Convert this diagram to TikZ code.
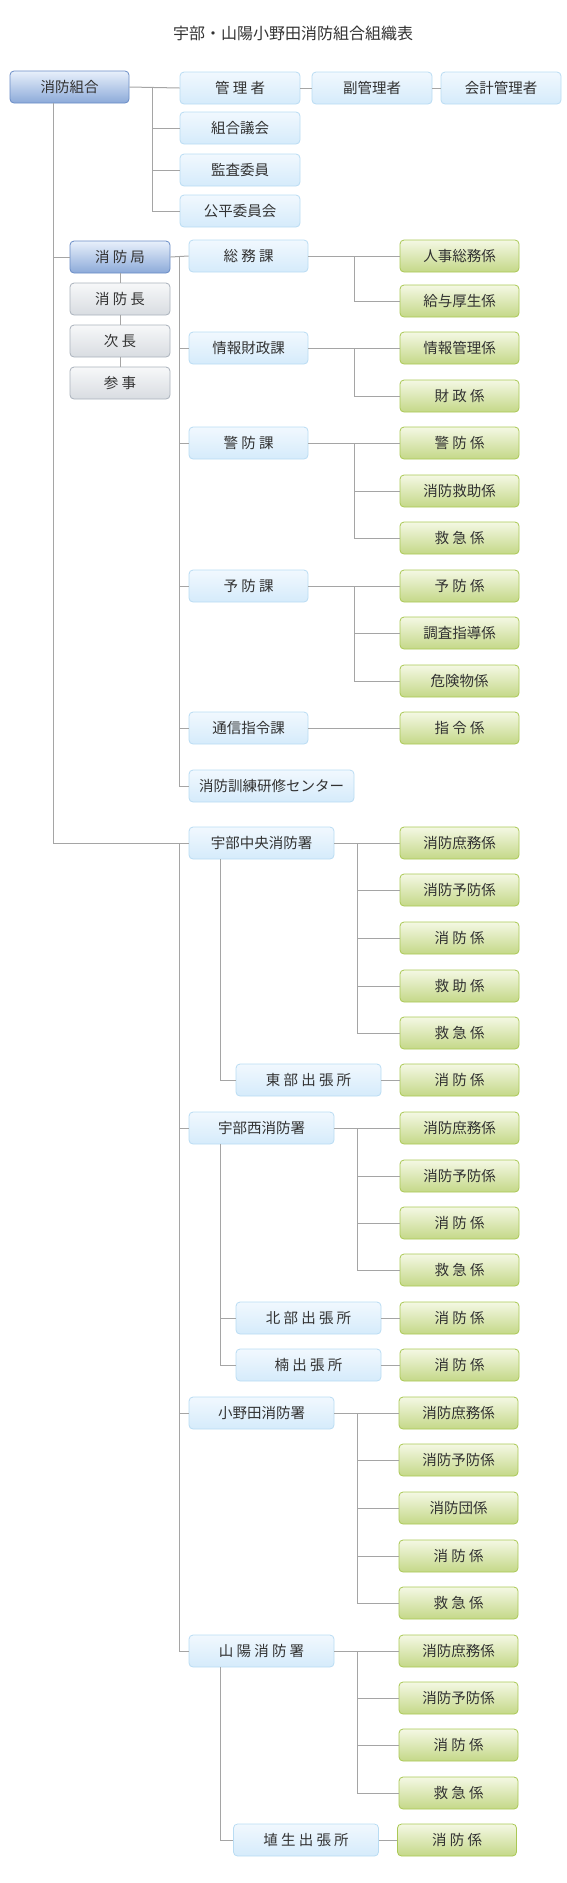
\documentclass[tikz,border=0pt]{standalone}
\usepackage{fontspec}
\setmainfont{Noto Sans CJK JP}
\usepackage{xcolor}
\usepackage{tikz}
\usetikzlibrary{positioning,calc}

\definecolor{txtgray}{RGB}{50,50,50}
\definecolor{linegray}{RGB}{165,165,165}
\definecolor{darkedge}{RGB}{105,140,198}
\definecolor{darktop}{RGB}{232,240,251}
\definecolor{darkbot}{RGB}{140,170,217}
\definecolor{lightedge}{RGB}{185,220,243}
\definecolor{lighttop}{RGB}{241,248,254}
\definecolor{lightbot}{RGB}{213,235,251}
\definecolor{grayedge}{RGB}{170,178,188}
\definecolor{graytop}{RGB}{247,248,249}
\definecolor{graybot}{RGB}{216,220,225}
\definecolor{greenedge}{RGB}{170,200,85}
\definecolor{greentop}{RGB}{244,248,228}
\definecolor{greenbot}{RGB}{196,216,136}

\begin{document}
\begin{tikzpicture}[x=1pt,y=-1pt,
    box/.style={rounded corners=4pt,minimum height=32pt,inner sep=0pt,line width=0.8pt,
        font=\fontsize{14.5}{17}\selectfont,text=txtgray},
    boxdark/.style={box,draw=darkedge,top color=darktop,bottom color=darkbot},
    boxlight/.style={box,draw=lightedge,top color=lighttop,bottom color=lightbot},
    boxgray/.style={box,draw=grayedge,top color=graytop,bottom color=graybot},
    boxgreen/.style={box,draw=greenedge,top color=greentop,bottom color=greenbot,minimum width=119pt},
    link/.style={draw=linegray,line width=1pt}]
    \useasboundingbox (0,0) rectangle (567,1883);

    \node[font=\fontsize{16}{19}\selectfont,text=txtgray] (title) at (293,33) {宇部・山陽小野田消防組合組織表};

    % top rows
    \node[boxdark,minimum width=119pt] (kumiai) at (69.5,87) {消防組合};
    \node[boxlight,minimum width=120pt] (kanri) at (240,88) {管 理 者};
    \node[boxlight,minimum width=120pt] (fuku) at (372,88) {副管理者};
    \node[boxlight,minimum width=120pt] (kaikei) at (501,88) {会計管理者};
    \node[boxlight,minimum width=120pt] (gikai) at (240,128) {組合議会};
    \node[boxlight,minimum width=120pt] (kansa) at (240,170) {監査委員};
    \node[boxlight,minimum width=120pt] (kohei) at (240,211) {公平委員会};

    % fire bureau
    \node[boxdark,minimum width=100pt] (kyoku) at (120,257) {消 防 局};
    \node[boxgray,minimum width=100pt] (choo) at (120,299) {消 防 長};
    \node[boxgray,minimum width=100pt] (jicho) at (120,341) {次 長};
    \node[boxgray,minimum width=100pt] (sanji) at (120,383) {参 事};

    \node[boxlight,minimum width=119pt] (somu) at (248.5,256) {総 務 課};
    \node[boxlight,minimum width=119pt] (joho) at (248.5,348) {情報財政課};
    \node[boxlight,minimum width=119pt] (keibo) at (248.5,443) {警 防 課};
    \node[boxlight,minimum width=119pt] (yobo) at (248.5,586) {予 防 課};
    \node[boxlight,minimum width=119pt] (tsushin) at (248.5,728) {通信指令課};
    \node[boxlight,minimum width=165pt] (kensyu) at (271.5,786) {消防訓練研修センター};

    \node[boxgreen] (jinji) at (459.5,256) {人事総務係};
    \node[boxgreen] (kyuyo) at (459.5,301) {給与厚生係};
    \node[boxgreen] (johok) at (459.5,348) {情報管理係};
    \node[boxgreen] (zaisei) at (459.5,396) {財 政 係};
    \node[boxgreen] (keibok) at (459.5,443) {警 防 係};
    \node[boxgreen] (kyujo) at (459.5,491) {消防救助係};
    \node[boxgreen] (kyukyu) at (459.5,538) {救 急 係};
    \node[boxgreen] (yobok) at (459.5,586) {予 防 係};
    \node[boxgreen] (chosa) at (459.5,633) {調査指導係};
    \node[boxgreen] (kiken) at (459.5,681) {危険物係};
    \node[boxgreen] (shirei) at (459.5,728) {指 令 係};

    % stations
    \node[boxlight,minimum width=145pt] (ubechuo) at (261.5,843) {宇部中央消防署};
    \node[boxlight,minimum width=145pt] (tobu) at (308.5,1080) {東 部 出 張 所};
    \node[boxgreen] (uc1) at (459.5,843) {消防庶務係};
    \node[boxgreen] (uc2) at (459.5,890) {消防予防係};
    \node[boxgreen] (uc3) at (459.5,938) {消 防 係};
    \node[boxgreen] (uc4) at (459.5,986) {救 助 係};
    \node[boxgreen] (uc5) at (459.5,1033) {救 急 係};
    \node[boxgreen] (tb1) at (459.5,1080) {消 防 係};

    \node[boxlight,minimum width=145pt] (ubenishi) at (261.5,1128) {宇部西消防署};
    \node[boxlight,minimum width=145pt] (hokubu) at (308.5,1318) {北 部 出 張 所};
    \node[boxlight,minimum width=145pt] (kusu) at (308.5,1365) {楠 出 張 所};
    \node[boxgreen] (un1) at (459.5,1128) {消防庶務係};
    \node[boxgreen] (un2) at (459.5,1176) {消防予防係};
    \node[boxgreen] (un3) at (459.5,1223) {消 防 係};
    \node[boxgreen] (un4) at (459.5,1270) {救 急 係};
    \node[boxgreen] (hb1) at (459.5,1318) {消 防 係};
    \node[boxgreen] (ks1) at (459.5,1365) {消 防 係};

    \node[boxlight,minimum width=145pt] (onoda) at (261.5,1413) {小野田消防署};
    \node[boxgreen] (on1) at (458.5,1413) {消防庶務係};
    \node[boxgreen] (on2) at (458.5,1460) {消防予防係};
    \node[boxgreen] (on3) at (458.5,1508) {消防団係};
    \node[boxgreen] (on4) at (458.5,1556) {消 防 係};
    \node[boxgreen] (on5) at (458.5,1603) {救 急 係};

    \node[boxlight,minimum width=145pt] (sanyo) at (261.5,1651) {山 陽 消 防 署};
    \node[boxlight,minimum width=145pt] (habu) at (306,1840) {埴 生 出 張 所};
    \node[boxgreen] (sy1) at (458.5,1651) {消防庶務係};
    \node[boxgreen] (sy2) at (458.5,1698) {消防予防係};
    \node[boxgreen] (sy3) at (458.5,1745) {消 防 係};
    \node[boxgreen] (sy4) at (458.5,1793) {救 急 係};
    \node[boxgreen] (hu1) at (457,1840) {消 防 係};

    % bracket columns
    \coordinate (mx) at (53,0);
    \coordinate (tx) at (152,0);
    \coordinate (kx) at (179,0);
    \coordinate (bx) at (220,0);
    \coordinate (gx) at (354,0);
    \coordinate (sx) at (357,0);

    % connectors
    \draw[link] (kumiai.east) -- (kanri.west);
    \draw[link] (kanri.east) -- (fuku.west);
    \draw[link] (fuku.east) -- (kaikei.west);
    \draw[link] (kumiai.east -| tx) |- (gikai.west);
    \draw[link] (kumiai.east -| tx) |- (kansa.west);
    \draw[link] (kumiai.east -| tx) |- (kohei.west);

    \draw[link] (kumiai.south -| mx) |- (kyoku.west);
    \draw[link] (kumiai.south -| mx) |- (ubechuo.west);

    \draw[link] (kyoku.south) -- (choo.north);
    \draw[link] (choo.south) -- (jicho.north);
    \draw[link] (jicho.south) -- (sanji.north);

    \draw[link] (kyoku.east) -- (somu.west);
    \draw[link] (somu.west -| kx) |- (joho.west);
    \draw[link] (somu.west -| kx) |- (keibo.west);
    \draw[link] (somu.west -| kx) |- (yobo.west);
    \draw[link] (somu.west -| kx) |- (tsushin.west);
    \draw[link] (somu.west -| kx) |- (kensyu.west);

    \draw[link] (somu.east) -- (jinji.west);
    \draw[link] (somu.east -| gx) |- (kyuyo.west);
    \draw[link] (joho.east) -- (johok.west);
    \draw[link] (joho.east -| gx) |- (zaisei.west);
    \draw[link] (keibo.east) -- (keibok.west);
    \draw[link] (keibo.east -| gx) |- (kyujo.west);
    \draw[link] (keibo.east -| gx) |- (kyukyu.west);
    \draw[link] (yobo.east) -- (yobok.west);
    \draw[link] (yobo.east -| gx) |- (chosa.west);
    \draw[link] (yobo.east -| gx) |- (kiken.west);
    \draw[link] (tsushin.east) -- (shirei.west);

    \draw[link] (ubechuo.west -| kx) |- (ubenishi.west);
    \draw[link] (ubechuo.west -| kx) |- (onoda.west);
    \draw[link] (ubechuo.west -| kx) |- (sanyo.west);

    \draw[link] (ubechuo.east) -- (uc1.west);
    \draw[link] (ubechuo.east -| sx) |- (uc2.west);
    \draw[link] (ubechuo.east -| sx) |- (uc3.west);
    \draw[link] (ubechuo.east -| sx) |- (uc4.west);
    \draw[link] (ubechuo.east -| sx) |- (uc5.west);
    \draw[link] (ubechuo.south -| bx) |- (tobu.west);
    \draw[link] (tobu.east) -- (tb1.west);

    \draw[link] (ubenishi.east) -- (un1.west);
    \draw[link] (ubenishi.east -| sx) |- (un2.west);
    \draw[link] (ubenishi.east -| sx) |- (un3.west);
    \draw[link] (ubenishi.east -| sx) |- (un4.west);
    \draw[link] (ubenishi.south -| bx) |- (hokubu.west);
    \draw[link] (ubenishi.south -| bx) |- (kusu.west);
    \draw[link] (hokubu.east) -- (hb1.west);
    \draw[link] (kusu.east) -- (ks1.west);

    \draw[link] (onoda.east) -- (on1.west);
    \draw[link] (onoda.east -| sx) |- (on2.west);
    \draw[link] (onoda.east -| sx) |- (on3.west);
    \draw[link] (onoda.east -| sx) |- (on4.west);
    \draw[link] (onoda.east -| sx) |- (on5.west);

    \draw[link] (sanyo.east) -- (sy1.west);
    \draw[link] (sanyo.east -| sx) |- (sy2.west);
    \draw[link] (sanyo.east -| sx) |- (sy3.west);
    \draw[link] (sanyo.east -| sx) |- (sy4.west);
    \draw[link] (sanyo.south -| bx) |- (habu.west);
    \draw[link] (habu.east) -- (hu1.west);
\end{tikzpicture}
\end{document}
